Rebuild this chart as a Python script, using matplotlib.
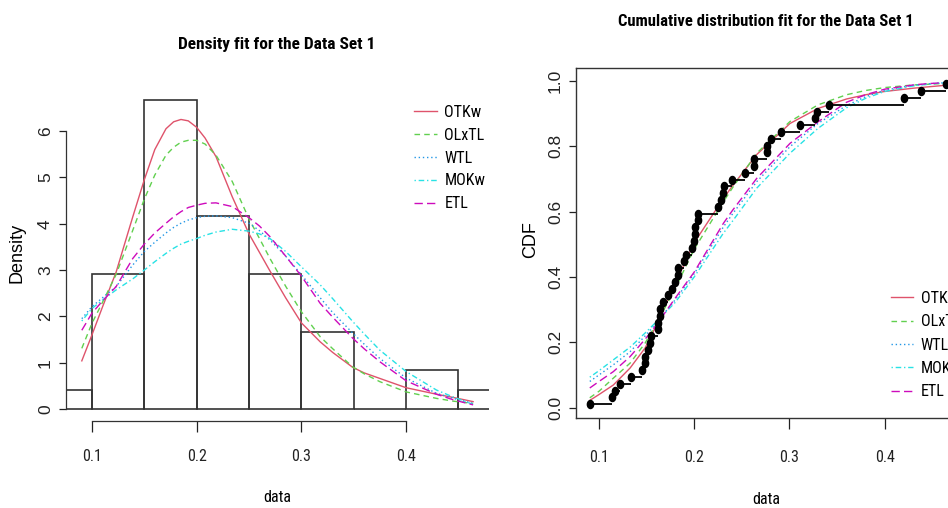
import numpy as np
import matplotlib
matplotlib.use("Agg")
import matplotlib.pyplot as plt
from matplotlib.font_manager import FontProperties
from matplotlib.path import Path
from matplotlib.transforms import Affine2D

# -------------------------------
# Data Set 1 (48 observations)
# -------------------------------
data = [0.0903296, 0.1486220, 0.1833120, 0.1170630, 0.1224170, 0.1670450,
        0.1896510, 0.1641270, 0.2036540, 0.1623940, 0.1509440, 0.1481410,
        0.2285950, 0.2316230, 0.1725670, 0.1534810, 0.2043140, 0.2627270,
        0.2000160, 0.1448100, 0.1138520, 0.2910290, 0.2400770, 0.1618650,
        0.2808870, 0.1794550, 0.1918020, 0.1330830, 0.2252140, 0.3412730,
        0.3116460, 0.2760160, 0.1976530, 0.3267860, 0.1541920, 0.2760160,
        0.1769690, 0.4387120, 0.1635860, 0.2538320, 0.3286410, 0.2300810,
        0.4641250, 0.4204770, 0.2007440, 0.2626510, 0.1824530, 0.2004470]

models = ["OTKw", "OLxTL", "WTL", "MOKw", "ETL"]

# fitted densities
x_pdf = [0.0903, 0.1, 0.11, 0.123, 0.139, 0.15, 0.16, 0.1707, 0.178, 0.185,
         0.192, 0.2, 0.208, 0.2184, 0.234, 0.25, 0.26, 0.27, 0.285, 0.3,
         0.318, 0.33, 0.349, 0.36, 0.375, 0.4, 0.429, 0.445, 0.464]
pdf_otkw = [1.04, 1.60, 2.20, 2.95, 4.15, 4.95, 5.60, 6.05, 6.20, 6.25,
            6.22, 6.08, 5.85, 5.45, 4.58, 3.78, 3.38, 2.98, 2.40, 1.86,
            1.45, 1.22, 0.90, 0.78, 0.66, 0.46, 0.32, 0.25, 0.16]
pdf_olxtl = [1.31, 1.85, 2.30, 2.90, 3.86, 4.53, 5.05, 5.48, 5.65, 5.76,
             5.80, 5.80, 5.72, 5.48, 4.91, 4.10, 3.68, 3.25, 2.65, 2.10,
             1.56, 1.30, 0.91, 0.76, 0.59, 0.37, 0.23, 0.17, 0.12]
pdf_wtl = [1.95, 2.21, 2.40, 2.64, 3.11, 3.40, 3.60, 3.80, 3.92, 4.01,
           4.08, 4.13, 4.16, 4.17, 4.13, 4.01, 3.85, 3.65, 3.30, 2.90,
           2.40, 2.08, 1.64, 1.40, 1.09, 0.67, 0.34, 0.23, 0.12]
pdf_mokw = [1.90, 2.17, 2.35, 2.57, 2.81, 3.00, 3.18, 3.36, 3.47, 3.56,
            3.62, 3.68, 3.75, 3.82, 3.88, 3.84, 3.78, 3.68, 3.40, 3.07,
            2.68, 2.38, 1.89, 1.62, 1.27, 0.81, 0.41, 0.26, 0.10]
pdf_etl = [1.70, 2.07, 2.33, 2.64, 3.25, 3.56, 3.80, 4.01, 4.15, 4.26,
           4.35, 4.40, 4.44, 4.45, 4.37, 4.13, 3.95, 3.72, 3.30, 2.87,
           2.28, 1.98, 1.53, 1.30, 1.02, 0.61, 0.32, 0.20, 0.09]

# fitted CDFs
x_cdf = [0.0903, 0.1, 0.115, 0.1326, 0.1483, 0.16, 0.18, 0.2, 0.2306, 0.24,
         0.2657, 0.3006, 0.33, 0.36, 0.38, 0.4, 0.43, 0.445, 0.464]
cdf_otkw = [0.022, 0.040, 0.069, 0.121, 0.182, 0.250, 0.380, 0.505, 0.640, 0.678,
            0.775, 0.870, 0.916, 0.945, 0.958, 0.968, 0.978, 0.982, 0.987]
cdf_olxtl = [0.030, 0.050, 0.090, 0.136, 0.197, 0.255, 0.365, 0.485, 0.630, 0.672,
             0.779, 0.876, 0.927, 0.958, 0.971, 0.980, 0.988, 0.990, 0.993]
cdf_wtl = [0.080, 0.100, 0.131, 0.171, 0.219, 0.258, 0.330, 0.410, 0.553, 0.592,
           0.692, 0.799, 0.870, 0.925, 0.952, 0.972, 0.987, 0.991, 0.995]
cdf_mokw = [0.093, 0.113, 0.146, 0.185, 0.228, 0.262, 0.322, 0.400, 0.534, 0.570,
            0.672, 0.779, 0.855, 0.918, 0.947, 0.968, 0.985, 0.990, 0.995]
cdf_etl = [0.060, 0.080, 0.110, 0.156, 0.209, 0.252, 0.335, 0.415, 0.564, 0.603,
           0.702, 0.809, 0.875, 0.935, 0.958, 0.975, 0.988, 0.992, 0.995]

pdfs = [pdf_otkw, pdf_olxtl, pdf_wtl, pdf_mokw, pdf_etl]
cdfs = [cdf_otkw, cdf_olxtl, cdf_wtl, cdf_mokw, cdf_etl]

colors = ["#DF536B", "#61D04F", "#2297E6", "#28E2E5", "#CD0BBC"]
styles = ["-", (0, (4, 3)), (0, (1, 2)), (0, (1, 2, 4, 2)), (0, (6, 3))]

NARROW = ["Roboto Condensed", "Archivo Narrow", "IBM Plex Sans Condensed",
          "Liberation Sans"]
REG = ["Liberation Sans", "DejaVu Sans"]
W, H = 948, 508

fig = plt.figure(figsize=(W / 100, H / 100), dpi=100)


def px_axes(x0, y_top, x1, y_bot):
    return fig.add_axes([x0 / W, 1 - y_bot / H, (x1 - x0) / W, (y_bot - y_top) / H])


def style_ticks(ax, xpad, ypad):
    ax.tick_params(axis="x", direction="out", length=8, width=0.9, pad=xpad,
                   colors="#222222")
    ax.tick_params(axis="y", direction="out", length=5, width=0.9, pad=ypad,
                   colors="#222222")
    for lab in ax.get_xticklabels():
        lab.set_family(NARROW)
        lab.set_fontsize(11.5)
    for lab in ax.get_yticklabels():
        lab.set_family(REG)
        lab.set_fontsize(12.5)
        lab.set_rotation(90)
        lab.set_va("center")


# -------------------------------
# Density plot
# -------------------------------
ax1 = px_axes(66.2, 87.5, 488.8, 421.4)
ax1.hist(data, bins=np.arange(0.05, 0.55, 0.05), density=True,
         histtype="bar", fill=False, edgecolor="#333333", linewidth=1.2)
for y, c, ls, name in zip(pdfs, colors, styles, models):
    ax1.plot(x_pdf, y, color=c, linestyle=ls, linewidth=1.0, label=name)
ax1.set_xlim(0.0754, 0.479)
ax1.set_ylim(-0.267, 6.94)
ax1.set_xticks([0.1, 0.2, 0.3, 0.4])
ax1.set_xticklabels(["0.1", "0.2", "0.3", "0.4"])
ax1.set_yticks(range(7))
ax1.set_yticklabels([str(i) for i in range(7)])
ax1.spines["top"].set_visible(False)
ax1.spines["right"].set_visible(False)
ax1.spines["left"].set_bounds(0, 6)
ax1.spines["bottom"].set_bounds(0.1, 0.4)
for s in ("left", "bottom"):
    ax1.spines[s].set_color("#333333")
    ax1.spines[s].set_linewidth(0.9)
style_ticks(ax1, 12, 4.5)

leg_font = FontProperties(family=NARROW, size=11.5)
ax1.legend(loc="upper left", bbox_to_anchor=(414 / W, 1 - 105 / H),
           bbox_transform=fig.transFigure, frameon=False, prop=leg_font,
           handlelength=1.45, handletextpad=0.45, labelspacing=0.49,
           borderpad=0, borderaxespad=0)

# -------------------------------
# CDF plot
# -------------------------------
ax2 = px_axes(575.6, 68.3, 959.8, 417.7)
xs = np.sort(np.array(data))
n = len(xs)
pp = (np.arange(1, n + 1) - 0.5) / n
dot = Path.unit_circle().transformed(Affine2D().scale(0.78, 1.0))
ax2.hlines(pp[:-1], xs[:-1], xs[1:], color="black", linewidth=1.3, zorder=3)
ax2.plot(xs, pp, linestyle="none", marker=dot, color="black", markersize=5.8,
         zorder=4)
for y, c, ls, name in zip(cdfs, colors, styles, models):
    ax2.plot(x_cdf, y, color=c, linestyle=ls, linewidth=1.0, label=name, zorder=2)
ax2.set_xlim(0.0754, 0.479)
ax2.set_ylim(-0.031, 1.039)
ax2.set_xticks([0.1, 0.2, 0.3, 0.4])
ax2.set_xticklabels(["0.1", "0.2", "0.3", "0.4"])
ax2.set_yticks([0, 0.2, 0.4, 0.6, 0.8, 1.0])
ax2.set_yticklabels(["0.0", "0.2", "0.4", "0.6", "0.8", "1.0"])
for s in ax2.spines.values():
    s.set_color("#333333")
    s.set_linewidth(1.0)
style_ticks(ax2, 15, 4)
ax2.legend(loc="upper left", bbox_to_anchor=(891 / W, 1 - 291 / H),
           bbox_transform=fig.transFigure, frameon=False, prop=leg_font,
           handlelength=1.35, handletextpad=0.5, labelspacing=0.52,
           borderpad=0, borderaxespad=0)

# -------------------------------
# Titles and axis labels
# -------------------------------
fig.text(277 / W, 1 - 45 / H, "Density fit for the Data Set 1", ha="center",
         va="center", fontsize=12.5, fontweight="bold", family=NARROW)
fig.text(766 / W, 1 - 22 / H, "Cumulative distribution fit for the Data Set 1",
         ha="center", va="center", fontsize=12, fontweight="bold", family=NARROW)
fig.text(277 / W, 1 - 497 / H, "data", ha="center", va="center", fontsize=11.5,
         family=NARROW)
fig.text(766 / W, 1 - 500 / H, "data", ha="center", va="center", fontsize=11.5,
         family=NARROW)
fig.text(17 / W, 1 - 253 / H, "Density", ha="center", va="center", fontsize=13,
         rotation=90, family=REG)
fig.text(531 / W, 1 - 240 / H, "CDF", ha="center", va="center", fontsize=13,
         rotation=90, family=REG)

fig.savefig("out.png", dpi=100)
